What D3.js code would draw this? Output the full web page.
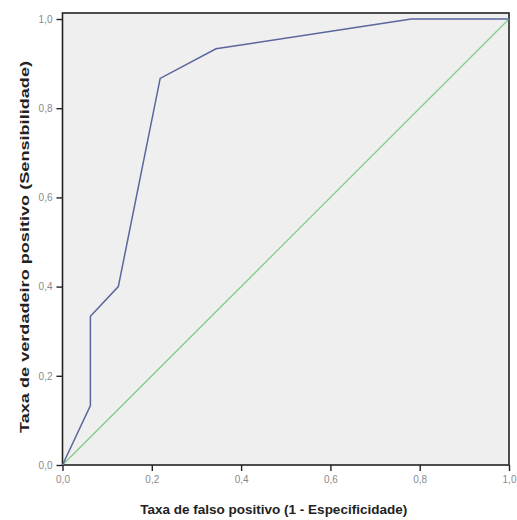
<!DOCTYPE html>
<html>
<head>
<meta charset="utf-8">
<script src="https://cdn.jsdelivr.net/npm/d3@7"></script>
<style>
  body { margin: 0; background: #fff; }
  svg { display: block; }
</style>
</head>
<body>
<svg id="chart"></svg>
<script>
// ROC curve points (1 - especificidade, sensibilidade)
const fpr = [0, 0.0625, 0.0625, 0.125, 0.21875, 0.34375, 0.78125, 1];
const tpr = [0, 0.1333, 0.3333, 0.4, 0.8667, 0.9333, 1, 1];
const refLine = [0, 1];
const tickValues = [0, 0.2, 0.4, 0.6, 0.8, 1];
const xTitle = 'Taxa de falso positivo (1 - Especificidade)';
const yTitle = 'Taxa de verdadeiro positivo (Sensibilidade)';

const width = 517, height = 520;
const plotLeft = 62.5, plotRight = 509, plotBottom = 465, plotTop = 19, frameTop = 13;

const svg = d3.select('#chart')
  .attr('width', width)
  .attr('height', height);

const x = d3.scaleLinear().domain([0, 1]).range([plotLeft, plotRight]);
const y = d3.scaleLinear().domain([0, 1]).range([plotBottom, plotTop]);

const fmt = (d) => d3.format('.1f')(d).replace('.', ',');

// plot background + frame
svg.append('rect')
  .attr('x', plotLeft).attr('y', frameTop)
  .attr('width', plotRight - plotLeft).attr('height', plotBottom - frameTop)
  .style('fill', '#efefef')
  .style('stroke', '#222')
  .style('stroke-width', 1.6);

// reference diagonal
svg.append('line')
  .attr('x1', x(refLine[0])).attr('y1', y(refLine[0]))
  .attr('x2', x(refLine[1])).attr('y2', y(refLine[1]))
  .style('stroke', '#86cc8c')
  .style('stroke-width', 1.3);

// ROC curve
const points = fpr.map((d, i) => [d, tpr[i]]);
svg.append('path')
  .datum(points)
  .attr('d', d3.line().x((d) => x(d[0])).y((d) => y(d[1])))
  .style('fill', 'none')
  .style('stroke', '#5a669c')
  .style('stroke-width', 1.5);

// axes
const xAxis = svg.append('g')
  .attr('transform', `translate(0,${plotBottom})`)
  .call(d3.axisBottom(x).tickValues(tickValues).tickFormat(fmt).tickSize(6).tickPadding(5));
const yAxis = svg.append('g')
  .attr('transform', `translate(${plotLeft},0)`)
  .call(d3.axisLeft(y).tickValues(tickValues).tickFormat(fmt).tickSize(6).tickPadding(4));

[xAxis, yAxis].forEach((g) => {
  g.select('.domain').remove();
  g.selectAll('.tick line').style('stroke', '#222').style('stroke-width', 1.4);
  g.selectAll('.tick text')
    .style('fill', '#8a8a8a')
    .style('font-family', 'Liberation Sans, Arial, sans-serif')
    .style('font-size', '10px');
});

// titles
svg.append('text')
  .attr('x', (plotLeft + plotRight) / 2 - 12)
  .attr('y', 514)
  .attr('text-anchor', 'middle')
  .style('font-family', 'Liberation Sans, Arial, sans-serif')
  .style('font-weight', 'bold')
  .style('font-size', '13.5px')
  .style('fill', '#222')
  .text(xTitle);

svg.append('text')
  .attr('transform', `translate(29,${(plotTop + plotBottom) / 2 + 5}) rotate(-90)`)
  .attr('text-anchor', 'middle')
  .attr('textLength', 372)
  .attr('lengthAdjust', 'spacingAndGlyphs')
  .style('font-family', 'Liberation Sans, Arial, sans-serif')
  .style('font-weight', 'bold')
  .style('font-size', '13.5px')
  .style('fill', '#222')
  .text(yTitle);
</script>
</body>
</html>
